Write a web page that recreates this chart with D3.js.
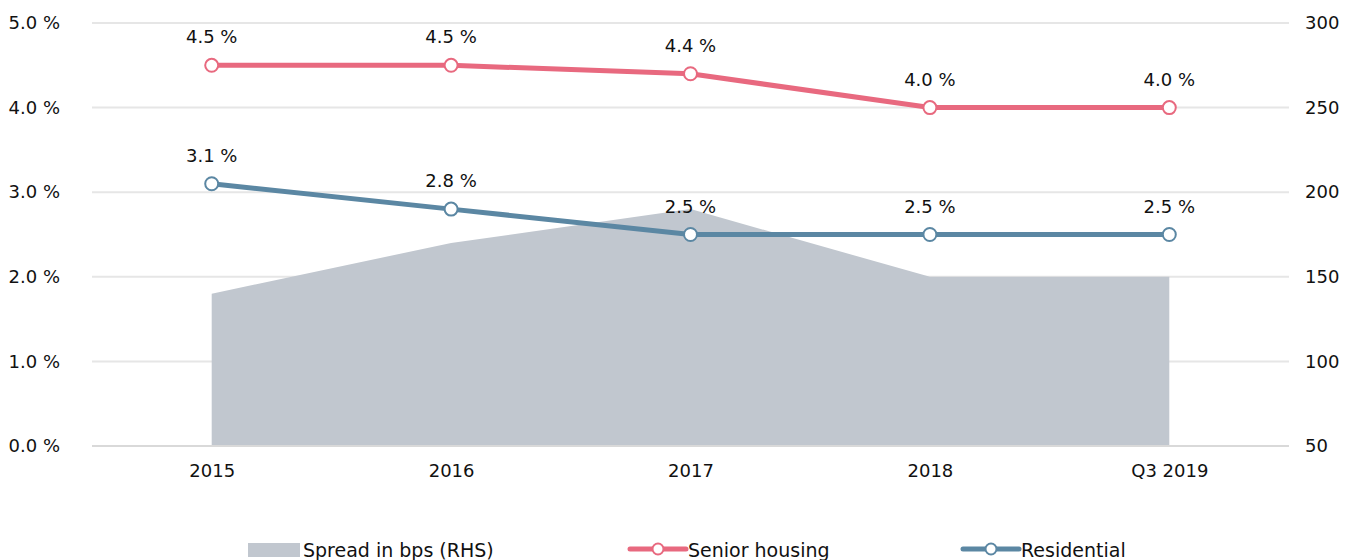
<!DOCTYPE html>
<html><head><meta charset="utf-8">
<script src="https://cdn.jsdelivr.net/npm/d3@7"></script>
<style>body{margin:0;background:#fff;} text{font-family:"DejaVu Sans",sans-serif;}</style>
</head><body>
<svg id="c" width="1357" height="560"></svg>
<script>
const categories = ["2015","2016","2017","2018","Q3 2019"];
const spread = [140,170,190,150,150];
const senior = [4.5,4.5,4.4,4.0,4.0];
const residential = [3.1,2.8,2.5,2.5,2.5];
const leftTicks = [0,1,2,3,4,5];
const rightTicks = [50,100,150,200,250,300];

const svg = d3.select("#c");
const L = 92, R = 1289, T = 23, B = 446;
const x = d3.scalePoint().domain(categories).range([L, R]).padding(0.5);
const yL = d3.scaleLinear().domain([0,5]).range([B,T]);
const yR = d3.scaleLinear().domain([50,300]).range([B,T]);
const fs = 18;
const pink = "#E8697F", blue = "#5B87A3", gray = "#C1C7CF";

svg.append("g").selectAll("line").data(leftTicks).join("line")
  .attr("x1", L).attr("x2", R).attr("y1", d=>yL(d)).attr("y2", d=>yL(d))
  .attr("stroke", d=> d===0 ? "#D9D9D9" : "#E6E6E6").attr("stroke-width", 2);

svg.append("path").datum(spread)
  .attr("d", d3.area().x((d,i)=>x(categories[i])).y0(yR(50)).y1(d=>yR(d)))
  .attr("fill", gray);

svg.append("line").attr("x1",L).attr("x2",R).attr("y1",B).attr("y2",B).attr("stroke","#D9D9D9").attr("stroke-width",2);

const axL = svg.append("g").attr("transform",`translate(${L-32},0)`)
  .call(d3.axisLeft(yL).tickValues(leftTicks).tickSize(0).tickPadding(0).tickFormat(d=>d3.format(".1f")(d)+" %"));
axL.select(".domain").remove();
axL.selectAll("text").attr("font-size",fs).attr("fill","#111").attr("font-family","DejaVu Sans");

const axR = svg.append("g").attr("transform",`translate(${R+16},0)`)
  .call(d3.axisRight(yR).tickValues(rightTicks).tickSize(0).tickPadding(0));
axR.select(".domain").remove();
axR.selectAll("text").attr("font-size",fs).attr("fill","#111").attr("font-family","DejaVu Sans");

const axX = svg.append("g").attr("transform",`translate(0,${B+12})`)
  .call(d3.axisBottom(x).tickSize(0).tickPadding(6));
axX.select(".domain").remove();
axX.selectAll("text").attr("font-size",fs).attr("fill","#111").attr("font-family","DejaVu Sans");

function series(vals, color){
  const g = svg.append("g");
  g.append("path").datum(vals)
    .attr("d", d3.line().x((d,i)=>x(categories[i])).y(d=>yL(d)))
    .attr("fill","none").attr("stroke",color).attr("stroke-width",5);
  g.selectAll("circle").data(vals).join("circle")
    .attr("cx",(d,i)=>x(categories[i])).attr("cy",d=>yL(d)).attr("r",6.5)
    .attr("fill","#fff").attr("stroke",color).attr("stroke-width",2);
  g.selectAll("text").data(vals).join("text")
    .attr("x",(d,i)=>x(categories[i])).attr("y",d=>yL(d)-22)
    .attr("text-anchor","middle").attr("font-size",fs).attr("fill","#111")
    .text(d=>d3.format(".1f")(d)+" %");
}
series(senior, pink);
series(residential, blue);

const ly = 549;
const lfs = 19;
const lg = svg.append("g");
lg.append("rect").attr("x",248).attr("y",ly-6).attr("width",52).attr("height",14).attr("fill",gray);
lg.append("text").attr("x",303).attr("y",ly+8).attr("font-size",lfs).attr("fill","#111").text("Spread in bps (RHS)");
[[630,pink,"Senior housing"],[963,blue,"Residential"]].forEach(([lx,c,t])=>{
  lg.append("line").attr("x1",lx).attr("x2",lx+56).attr("y1",ly).attr("y2",ly).attr("stroke",c).attr("stroke-width",5).attr("stroke-linecap","round");
  lg.append("circle").attr("cx",lx+28).attr("cy",ly).attr("r",5.5).attr("fill","#fff").attr("stroke",c).attr("stroke-width",2);
  lg.append("text").attr("x",lx+58).attr("y",ly+8).attr("font-size",lfs).attr("fill","#111").text(t);
});
</script>
</body></html>
